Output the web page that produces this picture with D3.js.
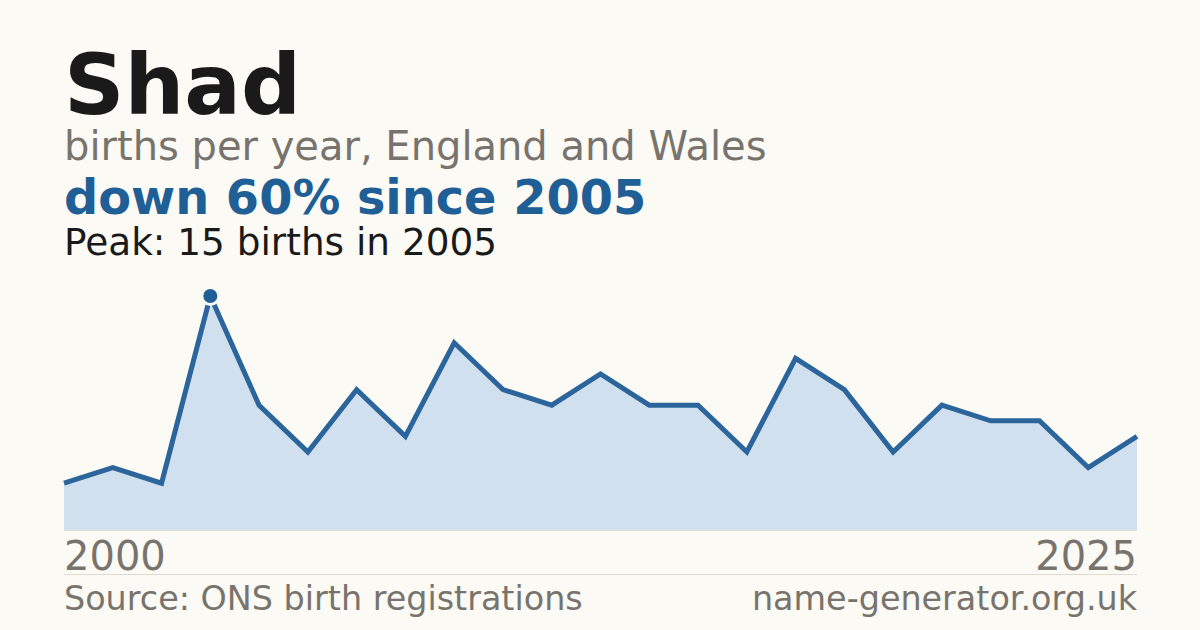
<!DOCTYPE html>
<html>
<head>
<meta charset="utf-8">
<script src="https://cdn.jsdelivr.net/npm/d3@7"></script>
<style>
  html, body { margin: 0; padding: 0; background: #fbfaf5; }
  svg { display: block; font-family: "DejaVu Sans", sans-serif; }
</style>
</head>
<body>
<svg id="chart" width="1200" height="630"></svg>
<script>
// Data (years with too few registrations are not listed)
const years = [2000, 2001, 2003, 2005, 2006, 2007, 2008, 2009, 2010, 2011, 2012, 2013,
               2014, 2015, 2016, 2017, 2018, 2019, 2021, 2022, 2023, 2024, 2025];
const births = [3, 4, 3, 15, 8, 5, 9, 6, 12, 9, 8, 10, 8, 8, 5, 11, 9, 5, 8, 7, 7, 4, 6];
const axisLabels = [2000, 2025];

const svg = d3.select("#chart"),
    width = 1200,
    height = 630;

const margin = {left: 64, right: 63, top: 296, bottom: 100};

svg.append("rect")
    .attr("width", width)
    .attr("height", height)
    .attr("fill", "#fbfaf5");

// Headings
svg.append("text")
    .attr("x", 64).attr("y", 114)
    .attr("font-size", 84).attr("font-weight", "bold")
    .attr("fill", "#1a1a1a")
    .text("Shad");

svg.append("text")
    .attr("x", 64).attr("y", 160)
    .attr("font-size", 40)
    .attr("fill", "#78746d")
    .text("births per year, England and Wales");

svg.append("text")
    .attr("x", 64).attr("y", 214)
    .attr("font-size", 47.8).attr("font-weight", "bold")
    .attr("fill", "#1f5f96")
    .text("down 60% since 2005");

svg.append("text")
    .attr("x", 64).attr("y", 255)
    .attr("font-size", 37.4)
    .attr("fill", "#1a1a1a")
    .text("Peak: 15 births in 2005");

// Scales
const x = d3.scalePoint()
    .domain(years)
    .range([margin.left, width - margin.right]);

const y = d3.scaleLinear()
    .domain([0, d3.max(births)])
    .range([530, margin.top]);

const points = years.map((yr, i) => ({year: yr, value: births[i]}));

// Area
svg.append("path")
    .datum(points)
    .attr("fill", "#d0e0ef")
    .attr("d", d3.area()
        .x(d => x(d.year))
        .y0(y(0))
        .y1(d => y(d.value)));

// baseline
svg.append("line")
    .attr("x1", margin.left).attr("x2", width - margin.right)
    .attr("y1", y(0) + 0.5).attr("y2", y(0) + 0.5)
    .attr("stroke", "#e6e1d6").attr("stroke-width", 1);

// Line
svg.append("path")
    .datum(points)
    .attr("fill", "none")
    .attr("stroke", "#2b659c")
    .attr("stroke-width", 5)
    .attr("stroke-linejoin", "miter")
    .attr("d", d3.line()
        .x(d => x(d.year))
        .y(d => y(d.value)));

// Peak marker
const peak = points[d3.maxIndex(points, d => d.value)];
svg.append("circle")
    .attr("cx", x(peak.year))
    .attr("cy", y(peak.value))
    .attr("r", 8.5)
    .attr("fill", "#1f5f96")
    .attr("stroke", "#fbfaf5")
    .attr("stroke-width", 3);

// Year labels, first and last only
svg.selectAll("text.year")
    .data(axisLabels)
    .join("text")
    .attr("class", "year")
    .attr("x", d => d === axisLabels[0] ? x.range()[0] : x.range()[1])
    .attr("y", 570)
    .attr("text-anchor", d => d === axisLabels[0] ? "start" : "end")
    .attr("font-size", 40)
    .attr("fill", "#78746d")
    .text(d => d);

// Footer
svg.append("line")
    .attr("x1", margin.left).attr("x2", width - margin.right)
    .attr("y1", 574.5).attr("y2", 574.5)
    .attr("stroke", "#dedad2").attr("stroke-width", 1);

svg.append("text")
    .attr("x", 64).attr("y", 610)
    .attr("font-size", 33.4)
    .attr("fill", "#78746d")
    .text("Source: ONS birth registrations");

svg.append("text")
    .attr("x", width - margin.right).attr("y", 610)
    .attr("text-anchor", "end")
    .attr("font-size", 33.4)
    .attr("fill", "#78746d")
    .text("name-generator.org.uk");
</script>
</body>
</html>
